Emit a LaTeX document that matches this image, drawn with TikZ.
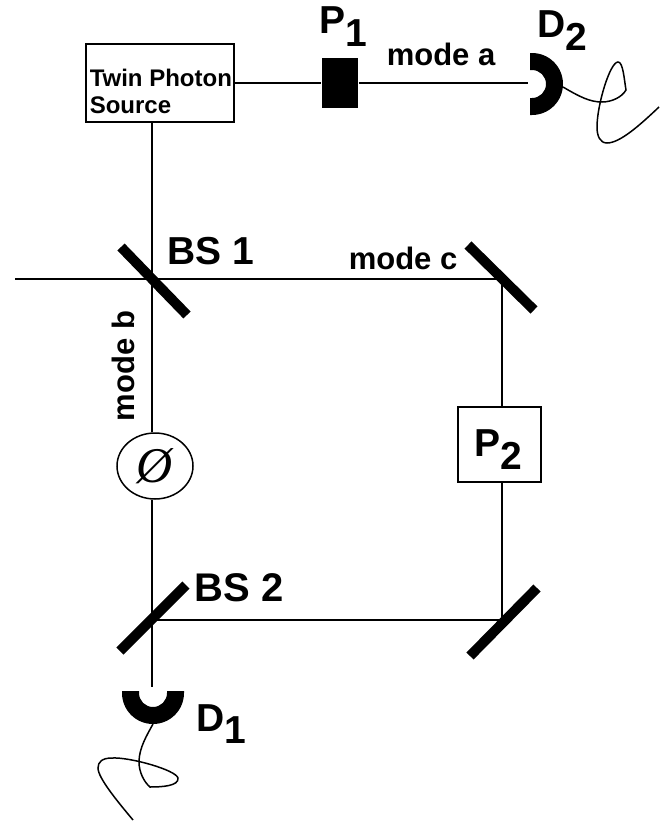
\documentclass[tikz,border=0pt]{standalone}
\usepackage{fontspec}
\setmainfont{Liberation Sans}
\newfontfamily\phasefont{Liberation Serif}
\usetikzlibrary{shapes.geometric}

\begin{document}
\begin{tikzpicture}[x=1pt,y=-1pt,line width=1.5pt,
  beam/.style={line width=1.5pt},
  mirror/.style={line width=10pt},
  wire/.style={line width=1.5pt},
  boxlabel/.style={inner sep=0pt,anchor=base west,font=\bfseries\fontsize{39}{39}\selectfont},
  modelabel/.style={inner sep=0pt,anchor=base west,font=\bfseries\fontsize{31}{31}\selectfont}]
\useasboundingbox (0,0) rectangle (670,825);
% beam corners
\coordinate (bsa) at (152,279);
\coordinate (bsb) at (152,620);
\coordinate (mirtop) at (502,279);
\coordinate (mirbot) at (502,620);
\coordinate (inport) at (15,279);
\coordinate (deta) at (528,83);
\coordinate (detb) at (152,687);
% elements
\node[draw,minimum width=83,minimum height=75,inner sep=0pt] (polB) at (499.5,444.5) {};
\node[draw,minimum width=148,minimum height=78,inner sep=0pt] (source) at (160,83) {};
\node[fill=black,minimum width=36,minimum height=50,inner sep=0pt] (polA) at (340,83) {};
\node[draw,ellipse,minimum width=76,minimum height=66,inner sep=0pt,font=\phasefont\itshape\fontsize{50}{50}\selectfont] (phase) at (155,466) {Ø};
% beams
\draw[beam] (source.east) -- (polA) -- (deta);
\draw[beam] (bsa |- source.south) -- (bsa |- phase.north);
\draw[beam] (bsa |- phase.south) -- (detb);
\draw[beam] (inport) -- (mirtop) -- (mirtop |- polB.north);
\draw[beam] (mirbot |- polB.south) -- (mirbot) -- (bsb);
% mirrors
\draw[mirror] (121,247) -- (187,315);
\draw[mirror] (468,245) -- (534,310);
\draw[mirror] (186,585) -- (120,651);
\draw[mirror] (537,588) -- (470,656);
% detectors
\fill (530,53) -- (532,53) arc (-90:90:31) -- (530,115) -- (530,98) -- (532,98) arc (90:-90:14) -- (530,70) -- cycle;
\fill (122,691) -- (122,693) arc (180:0:31) -- (184,691) -- (167,691) -- (167,693) arc (0:180:14) -- (139,691) -- cycle;
% detector wires
\draw[wire] (563,87) .. controls (580,97) and (590,102) .. (602,102) .. controls (612,102) and (622,97) .. (626,90) .. controls (624,78) and (623,62) .. (618,62) .. controls (610,62) and (597,105) .. (597,127) .. controls (597,136) and (600,143) .. (607,143) .. controls (620,143) and (640,125) .. (659,107);
\draw[wire] (153,724) .. controls (147,735) and (139,748) .. (139,762) .. controls (139,772) and (144,782) .. (150,787) .. controls (162,787) and (179,786) .. (178,778) .. controls (176,770) and (130,757) .. (112,758) .. controls (102,758) and (98,762) .. (98,768) .. controls (98,778) and (118,802) .. (133,820);
% labels
\node[inner sep=0pt,anchor=base west,align=left,font=\bfseries\fontsize{24}{27}\selectfont] (sourcelabel) at (89,113) {Twin Photon\\Source};
\node[boxlabel] (labelA) at (319,33) {P\raisebox{-13pt}{1}};
\node[boxlabel] (labelB) at (537,37) {D\raisebox{-13pt}{2}};
\node[boxlabel] (labelC) at (196,731) {D\raisebox{-12pt}{1}};
\node[boxlabel] (labelD) at (474,456) {P\raisebox{-13pt}{2}};
\node[boxlabel] (labelE) at (167,264) {BS 1};
\node[boxlabel,font=\bfseries\fontsize{40}{40}\selectfont] (labelF) at (194,601) {BS 2};
\node[modelabel] (labelG) at (386,65) {mode a};
\node[modelabel] (labelH) at (348,269) {mode c};
\node[modelabel,rotate=90] (labelI) at (134,422) {mode b};
\end{tikzpicture}
\end{document}
